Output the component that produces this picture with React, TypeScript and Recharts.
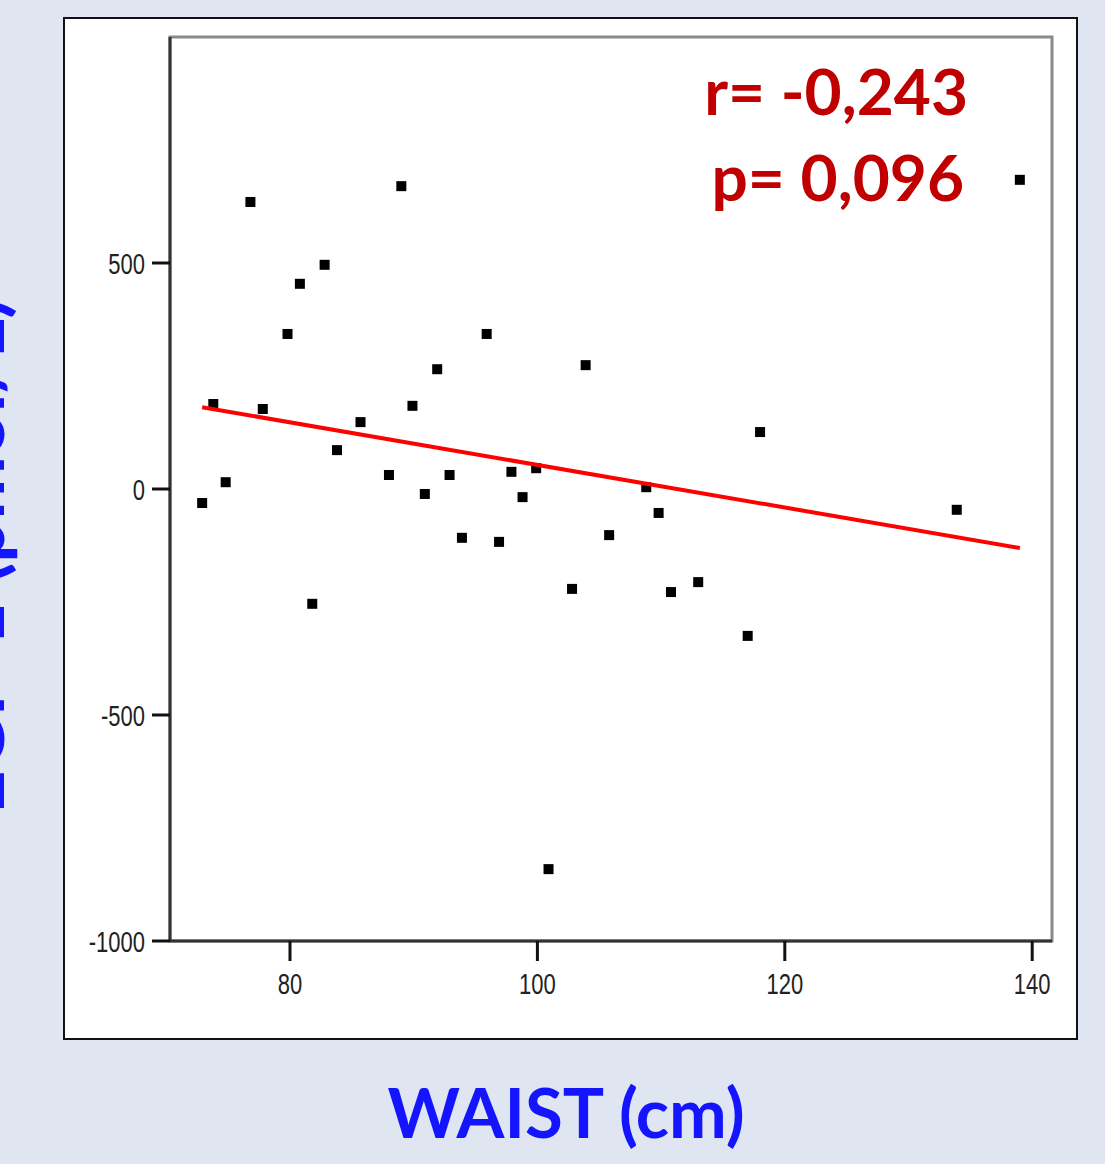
import React from "react";
import { ScatterChart, Scatter, XAxis, YAxis, ReferenceArea } from "recharts";

const waist = [72.9, 73.8, 74.8, 76.8, 77.8, 79.8, 80.8, 81.8, 82.8, 83.8, 85.7, 88.0, 89.0, 89.9, 90.9, 91.9, 92.9, 93.9, 95.9, 96.9, 97.9, 98.8, 99.9, 100.9, 102.8, 103.9, 105.8, 108.8, 109.8, 110.8, 113.0, 117.0, 118.0, 133.9, 139.0];
const egf = [-31, 188, 15, 635, 177, 343, 454, -254, 496, 86, 148, 31, 670, 184, -11, 265, 31, -108, 343, -117, 38, -18, 46, -841, -221, 274, -102, 4, -53, -228, -206, -325, 126, -46, 684];
const fitX = [72.9, 139.0];
const fitY = [181, -130.5];
const xTicks = [80, 100, 120, 140];
const yTicks = [-1000, -500, 0, 500];
const xDomain = [70.3, 141.6];
const yDomain = [-1000, 1000];

const points = waist.map((x, i) => ({ x, y: egf[i] }));
const fit = fitX.map((x, i) => ({ x, y: fitY[i] }));

const Square = (props: any) => {
  const { cx, cy } = props;
  if (cx == null || cy == null) return <g />;
  return <rect x={cx - 5} y={cy - 5} width={10} height={10} fill="#000" />;
};

const NoShape = () => <g />;

const tickFont = "'Liberation Sans Narrow', 'Liberation Sans', Arial, sans-serif";

const YTick = (props: any) => {
  const { x, y, payload } = props;
  return (
    <text
      transform={`translate(${x},${y}) scale(0.88,1.2)`}
      x={0}
      y={0}
      dy="0.36em"
      textAnchor="end"
      fontFamily={tickFont}
      fontSize={25}
      fill="#222"
    >
      {payload.value}
    </text>
  );
};

const XTick = (props: any) => {
  const { x, y, payload } = props;
  return (
    <text
      transform={`translate(${x},${y}) scale(0.88,1.2)`}
      x={0}
      y={0}
      dy="0.72em"
      textAnchor="middle"
      fontFamily={tickFont}
      fontSize={25}
      fill="#222"
    >
      {payload.value}
    </text>
  );
};

export default function App() {
  return (
    <div style={{ position: "absolute", left: 0, top: 0, width: 1105, height: 1164, background: "#dfe6f2", overflow: "hidden" }}>
      <div
        style={{
          position: "absolute",
          left: 63,
          top: 17,
          width: 1015,
          height: 1023,
          boxSizing: "border-box",
          border: "2px solid #111",
          background: "#fff",
        }}
      />
      <div style={{ position: "absolute", left: 0, top: 0 }}>
        <ScatterChart width={1105} height={1164} margin={{ top: 37, right: 53, left: 100, bottom: 163 }}>
          <XAxis
            type="number"
            dataKey="x"
            domain={xDomain}
            ticks={xTicks}
            allowDataOverflow
            height={60}
            tickSize={20}
            tickMargin={11}
            tick={<XTick />}
            axisLine={{ stroke: "#333", strokeWidth: 3 }}
            tickLine={{ stroke: "#111", strokeWidth: 3 }}
          />
          <YAxis
            type="number"
            dataKey="y"
            domain={yDomain}
            ticks={yTicks}
            allowDataOverflow
            width={70}
            tickSize={18}
            tickMargin={7}
            tick={<YTick />}
            axisLine={{ stroke: "#333", strokeWidth: 3 }}
            tickLine={{ stroke: "#111", strokeWidth: 3 }}
          />
          <ReferenceArea
            x1={xDomain[0]}
            x2={xDomain[1]}
            y1={yDomain[0]}
            y2={yDomain[1]}
            fill="none"
            stroke="#8a8a8a"
            strokeWidth={3}
            ifOverflow="visible"
          />
          <Scatter data={points} shape={Square} isAnimationActive={false} />
          <Scatter
            data={fit}
            line={{ stroke: "#ff0000", strokeWidth: 4 }}
            shape={NoShape}
            isAnimationActive={false}
          />
        </ScatterChart>
      </div>
      <svg
        width={1105}
        height={1164}
        style={{ position: "absolute", left: 0, top: 0, pointerEvents: "none" }}
      >
        <text
          x={968}
          y={115}
          textAnchor="end"
          fontFamily="Lato, 'Open Sans', sans-serif"
          fontWeight={700}
          fontSize={64}
          fill="#c00000"
        >
          r= -0,243
        </text>
        <text
          x={964}
          y={201}
          textAnchor="end"
          fontFamily="Lato, 'Open Sans', sans-serif"
          fontWeight={700}
          fontSize={64}
          fill="#c00000"
        >
          p= 0,096
        </text>
        <text
          x={566}
          y={1138}
          textAnchor="middle"
          fontFamily="Lato, 'Open Sans', sans-serif"
          fontWeight={700}
          fontSize={69}
          fill="#1414ff"
        >
          WAIST (cm)
        </text>
        <text
          x={4}
          y={556}
          textAnchor="middle"
          transform="rotate(-90 4 556)"
          fontFamily="Lato, 'Open Sans', sans-serif"
          fontWeight={700}
          fontSize={76}
          fill="#1414ff"
        >
          EGF-1 (pmol/L)
        </text>
      </svg>
    </div>
  );
}
